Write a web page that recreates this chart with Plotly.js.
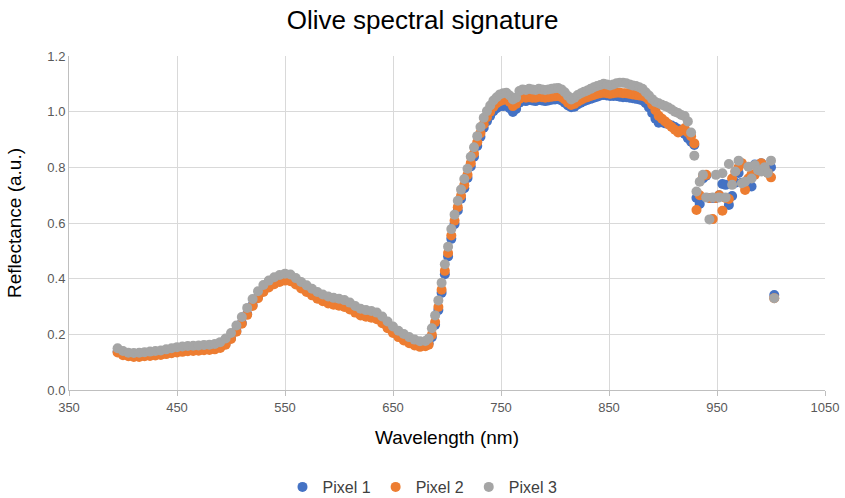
<!DOCTYPE html>
<html>
<head>
<meta charset="utf-8">
<script src="https://cdn.plot.ly/plotly-3.0.1.min.js"></script>
<style>html,body{margin:0;padding:0;background:#fff;}#chart{width:845px;height:498px;}</style>
</head>
<body>
<div id="chart"></div>
<script>
// Wavelength (nm)
const wavelength = [395,400,405,410,415,420,425,430,435,440,445,450,455,460,465,470,475,480,485,490,495,500,505,510,515,520,525,530,535,540,545,550,555,560,565,570,575,580,585,590,595,600,605,610,615,620,625,630,635,640,645,650,655,660,665,670,675,680,
683,686,689,692,695,698,701,704,707,710,713,716,719,722,725,728,731,734,737,740,743,746,749,
752,755,758,761,764,767,770,773,776,779,782,785,788,791,794,797,800,803,806,809,812,815,818,821,824,827,830,833,836,839,842,845,848,851,854,857,860,863,866,869,872,875,878,881,884,887,890,893,896,899,902,905,908,911,914,917,920,923,926,929,
931,934,937,940,943,946,949,952,955,958,961,964,967,970,973,976,979,982,985,988,991,994,997,1000,1003];

const pixel1 = [0.138,0.128,0.124,0.122,0.122,0.124,0.125,0.127,0.129,0.132,0.135,0.138,0.140,0.142,0.143,0.144,0.146,0.147,0.149,0.154,0.166,0.186,0.212,0.241,0.273,0.305,0.334,0.356,0.372,0.384,0.392,0.397,0.395,0.383,0.369,0.356,0.344,0.332,0.323,0.315,0.310,0.307,0.302,0.293,0.282,0.272,0.267,0.264,0.258,0.244,0.226,0.209,0.194,0.183,0.173,0.165,0.160,0.161,
0.168,0.190,0.234,0.287,0.349,0.416,0.480,0.543,0.596,0.645,0.687,0.725,0.762,0.803,0.838,0.877,0.910,0.942,0.966,0.985,1.002,1.012,1.020,
1.020,1.022,1.012,0.999,1.010,1.032,1.040,1.038,1.042,1.040,1.038,1.042,1.040,1.038,1.040,1.043,1.044,1.045,1.040,1.032,1.022,1.016,1.018,1.026,1.032,1.038,1.042,1.046,1.050,1.054,1.058,1.060,1.058,1.056,1.056,1.056,1.054,1.052,1.052,1.050,1.048,1.046,1.044,1.040,1.030,1.015,0.995,0.975,0.960,0.962,0.958,0.955,0.950,0.945,0.938,0.930,0.920,0.905,0.892,0.880,
0.690,0.668,0.760,0.770,0.690,0.690,0.690,0.700,0.740,0.737,0.665,0.697,0.745,0.780,0.745,0.740,0.731,0.731,0.810,0.800,0.815,0.795,0.790,0.800,0.341];

const pixel2 = [0.135,0.125,0.121,0.119,0.119,0.121,0.122,0.124,0.126,0.129,0.132,0.135,0.137,0.139,0.140,0.141,0.143,0.144,0.146,0.151,0.163,0.183,0.209,0.238,0.270,0.302,0.330,0.352,0.368,0.380,0.388,0.393,0.391,0.379,0.365,0.352,0.340,0.328,0.319,0.311,0.306,0.303,0.298,0.289,0.278,0.268,0.263,0.260,0.254,0.240,0.222,0.205,0.190,0.178,0.168,0.160,0.155,0.157,
0.163,0.198,0.244,0.298,0.360,0.428,0.492,0.555,0.608,0.657,0.698,0.736,0.773,0.815,0.850,0.890,0.923,0.955,0.980,1.000,1.018,1.030,1.038,
1.042,1.045,1.035,1.020,1.028,1.046,1.052,1.050,1.052,1.050,1.050,1.054,1.052,1.050,1.052,1.054,1.055,1.056,1.052,1.044,1.032,1.024,1.028,1.036,1.042,1.048,1.052,1.056,1.060,1.064,1.066,1.068,1.066,1.064,1.066,1.068,1.068,1.066,1.066,1.064,1.062,1.060,1.058,1.056,1.052,1.042,1.025,1.005,0.985,0.975,0.965,0.955,0.945,0.935,0.925,0.932,0.940,0.925,0.912,0.886,
0.647,0.700,0.769,0.773,0.690,0.614,0.690,0.700,0.644,0.690,0.686,0.760,0.785,0.800,0.815,0.719,0.760,0.775,0.773,0.790,0.815,0.800,0.780,0.764,0.330];

const pixel3 = [0.150,0.140,0.134,0.133,0.134,0.136,0.138,0.140,0.142,0.146,0.150,0.154,0.156,0.158,0.159,0.160,0.162,0.163,0.165,0.172,0.185,0.205,0.232,0.262,0.295,0.327,0.355,0.377,0.393,0.405,0.413,0.418,0.415,0.402,0.388,0.376,0.364,0.352,0.343,0.336,0.331,0.328,0.323,0.314,0.302,0.292,0.287,0.284,0.278,0.264,0.246,0.228,0.213,0.201,0.190,0.181,0.175,0.176,
0.185,0.222,0.268,0.322,0.385,0.452,0.515,0.578,0.630,0.680,0.720,0.758,0.795,0.838,0.872,0.912,0.945,0.978,1.002,1.022,1.040,1.052,1.062,
1.066,1.068,1.058,1.044,1.050,1.074,1.080,1.078,1.082,1.080,1.078,1.082,1.080,1.078,1.080,1.082,1.084,1.085,1.080,1.070,1.056,1.044,1.050,1.060,1.066,1.072,1.076,1.082,1.088,1.092,1.096,1.100,1.098,1.094,1.098,1.102,1.104,1.104,1.102,1.098,1.094,1.092,1.088,1.082,1.070,1.058,1.045,1.035,1.030,1.025,1.020,1.015,1.008,1.000,0.995,0.988,0.984,0.965,0.925,0.842,
0.713,0.748,0.773,0.692,0.613,0.692,0.773,0.692,0.779,0.692,0.812,0.737,0.785,0.824,0.743,0.748,0.802,0.760,0.808,0.790,0.785,0.800,0.780,0.824,0.330];

const seriesNames = ['Pixel 1','Pixel 2','Pixel 3'];
const seriesColors = ['#4472C4','#ED7D31','#A5A5A5'];
const seriesValues = [pixel1, pixel2, pixel3];

const FONT = 'Liberation Sans, Arial, sans-serif';

const traces = seriesValues.map((vals, i) => ({
  type: 'scatter',
  mode: 'markers',
  name: seriesNames[i],
  x: wavelength,
  y: vals,
  marker: {color: seriesColors[i], size: 10, line: {width: 0}},
  hoverinfo: 'skip'
}));

const layout = {
  width: 845,
  height: 498,
  paper_bgcolor: '#ffffff',
  plot_bgcolor: '#ffffff',
  margin: {l: 69, r: 20, t: 56, b: 108},
  font: {family: FONT, color: '#595959'},
  title: {
    text: 'Olive spectral signature',
    font: {family: FONT, size: 26, color: '#000000'},
    xref: 'container', x: 0.5, xanchor: 'center',
    yref: 'container', y: 1 - 20/498, yanchor: 'middle'
  },
  xaxis: {
    range: [350, 1050],
    tick0: 350, dtick: 100,
    showgrid: true, gridcolor: '#d9d9d9', gridwidth: 1,
    zeroline: false,
    showline: true, linecolor: '#bfbfbf', linewidth: 1,
    ticks: 'outside', ticklen: 5, tickcolor: '#bfbfbf',
    tickfont: {family: FONT, size: 13, color: '#595959'},
    title: {text: 'Wavelength (nm)', font: {family: FONT, size: 19, color: '#000000'}, standoff: 17}
  },
  yaxis: {
    range: [0, 1.2],
    tick0: 0, dtick: 0.2, tickformat: '.1f',
    showgrid: true, gridcolor: '#d9d9d9', gridwidth: 1,
    zeroline: false,
    showline: true, linecolor: '#bfbfbf', linewidth: 1,
    ticks: '',
    tickfont: {family: FONT, size: 13, color: '#595959'},
    title: {text: 'Reflectance (a.u.)', font: {family: FONT, size: 19, color: '#000000'}, standoff: 20}
  },
  showlegend: true,
  legend: {
    orientation: 'h',
    xref: 'container', x: 0.5, xanchor: 'center',
    yref: 'container', y: 11/498, yanchor: 'middle',
    font: {family: FONT, size: 16, color: '#404040'},
    itemwidth: 30,
    tracegroupgap: 0
  }
};

Plotly.newPlot('chart', traces, layout, {displayModeBar: false, staticPlot: true});
</script>
</body>
</html>
